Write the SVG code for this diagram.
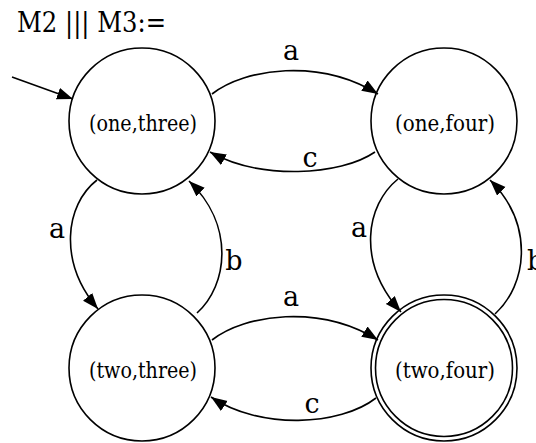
<svg xmlns="http://www.w3.org/2000/svg" width="536" height="443" viewBox="0 0 536 443">
  <style>
    .state { fill: none; stroke: #000; stroke-width: 1.6; }
    .edge { fill: none; stroke: #000; stroke-width: 1.6; marker-end: url(#head); }
    text { font-family: 'DejaVu Serif', serif; fill: #000; }
    .node-label { font-size: 23px; text-anchor: middle; }
    .edge-label { font-size: 27px; text-anchor: middle; }
    .title { font-size: 27px; }
  </style>
  <defs>
    <marker id="head" markerUnits="userSpaceOnUse" markerWidth="18" markerHeight="13" refX="16" refY="6" orient="auto">
      <path d="M0,0 L16,6 L0,12 z" fill="#000"/>
    </marker>
  </defs>
  <rect width="536" height="443" fill="#fff"/>

  <text class="title" x="17" y="32" textLength="149" lengthAdjust="spacingAndGlyphs">M2 ||| M3:=</text>

  <g id="connectors">
    <!-- start arrow -->
    <path class="edge" d="M12,77 L73,99"/>
    <!-- (one,three) -> (one,four) : a -->
    <path class="edge" d="M212,94 C245,68 320,58 378,94"/>
    <text class="edge-label" x="291" y="60">a</text>
    <!-- (one,four) -> (one,three) : c -->
    <path class="edge" d="M375,152 C340,176 260,180 210,152"/>
    <text class="edge-label" x="310" y="167">c</text>
    <!-- (one,three) -> (two,three) : a -->
    <path class="edge" d="M97,180 C65,205 58,262 98,309"/>
    <text class="edge-label" x="57" y="238">a</text>
    <!-- (two,three) -> (one,three) : b -->
    <path class="edge" d="M197,313 C228,285 235,225 189,181"/>
    <text class="edge-label" x="234" y="270">b</text>
    <!-- (one,four) -> (two,four) : a -->
    <path class="edge" d="M398,179 C366,205 356,262 401,312"/>
    <text class="edge-label" x="359" y="237">a</text>
    <!-- (two,four) -> (one,four) : b -->
    <path class="edge" d="M495,314 C527,285 535,225 490,180"/>
    <text class="edge-label" x="527" y="270" style="text-anchor:start">b</text>
    <!-- (two,three) -> (two,four) : a -->
    <path class="edge" d="M212,340 C245,314 320,304 378,340"/>
    <text class="edge-label" x="291" y="306">a</text>
    <!-- (two,four) -> (two,three) : c -->
    <path class="edge" d="M376,398 C340,426 260,430 211,397"/>
    <text class="edge-label" x="312" y="413">c</text>
  </g>

  <g id="one_three">
    <circle class="state" cx="142" cy="121" r="73"/>
    <text class="node-label" x="143" y="131" textLength="108" lengthAdjust="spacingAndGlyphs">(one,three)</text>
  </g>
  <g id="one_four">
    <circle class="state" cx="444" cy="121" r="73"/>
    <text class="node-label" x="445" y="131" textLength="100" lengthAdjust="spacingAndGlyphs">(one,four)</text>
  </g>
  <g id="two_three">
    <circle class="state" cx="142" cy="368" r="73"/>
    <text class="node-label" x="143" y="378" textLength="108" lengthAdjust="spacingAndGlyphs">(two,three)</text>
  </g>
  <g id="two_four">
    <circle class="state" cx="444" cy="368" r="73"/>
    <circle class="state" cx="444" cy="368" r="68.5"/>
    <text class="node-label" x="445" y="378" textLength="100" lengthAdjust="spacingAndGlyphs">(two,four)</text>
  </g>
</svg>
